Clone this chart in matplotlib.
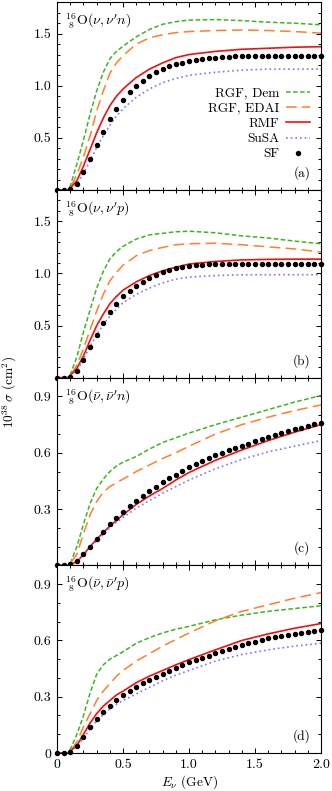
# Neutral-current neutrino cross sections on 16O, four panels
import matplotlib
matplotlib.use("Agg")
import matplotlib.pyplot as plt
import numpy as np
from matplotlib.ticker import MultipleLocator

plt.rcParams['font.family'] = 'serif'
plt.rcParams['font.serif'] = ['cmr10', 'DejaVu Serif']
plt.rcParams['mathtext.fontset'] = 'cm'
plt.rcParams['axes.unicode_minus'] = False

# energy grid for the model curves (GeV)
E_LINE = [0, 0.05, 0.08, 0.1, 0.15, 0.2, 0.25, 0.3, 0.35, 0.4, 0.45, 0.5,
          0.6, 0.7, 0.8, 0.9, 1.0, 1.2, 1.4, 1.6, 1.8, 2.0]
# energy grid for the SF points
E_SF = np.linspace(0, 2.0, 41)

# panel (a)  nu, nu' n
a_dem = [0, 0, 0, 0.04, 0.25, 0.48, 0.73, 0.95, 1.13, 1.26, 1.33, 1.38,
         1.47, 1.54, 1.59, 1.615, 1.63, 1.635, 1.625, 1.61, 1.60, 1.585]
a_edai = [0, 0, 0, 0.02, 0.15, 0.32, 0.52, 0.76, 0.95, 1.12, 1.22, 1.29,
          1.40, 1.46, 1.49, 1.51, 1.52, 1.53, 1.535, 1.53, 1.52, 1.505]
a_rmf = [0, 0, 0, 0.02, 0.09, 0.23, 0.39, 0.55, 0.69, 0.81, 0.90, 0.97,
         1.08, 1.16, 1.22, 1.27, 1.30, 1.33, 1.35, 1.36, 1.37, 1.375]
a_susa = [0, 0, 0, 0.01, 0.06, 0.16, 0.28, 0.41, 0.52, 0.62, 0.71, 0.78,
          0.89, 0.97, 1.03, 1.07, 1.10, 1.13, 1.15, 1.16, 1.16, 1.16]
a_sf = [0, 0, 0.01, 0.06, 0.17, 0.30, 0.43, 0.56, 0.68, 0.775, 0.865, 0.94,
        1.00, 1.05, 1.095, 1.13, 1.16, 1.185, 1.205, 1.22, 1.235, 1.245,
        1.255, 1.263, 1.27, 1.275, 1.278, 1.281, 1.283, 1.285, 1.286, 1.287,
        1.288, 1.288, 1.289, 1.289, 1.29, 1.29, 1.29, 1.29, 1.29]

# panel (b)  nu, nu' p
b_dem = [0, 0, 0, 0.03, 0.20, 0.44, 0.65, 0.86, 1.02, 1.14, 1.21, 1.26,
         1.33, 1.37, 1.385, 1.40, 1.405, 1.39, 1.36, 1.34, 1.31, 1.285]
b_edai = [0, 0, 0, 0.02, 0.12, 0.28, 0.46, 0.64, 0.80, 0.93, 1.01, 1.08,
          1.17, 1.22, 1.25, 1.275, 1.285, 1.29, 1.275, 1.255, 1.235, 1.205]
b_rmf = [0, 0, 0, 0.02, 0.09, 0.21, 0.36, 0.50, 0.61, 0.71, 0.78, 0.84,
         0.92, 0.98, 1.025, 1.06, 1.09, 1.115, 1.13, 1.135, 1.137, 1.137]
b_susa = [0, 0, 0, 0.01, 0.07, 0.18, 0.30, 0.41, 0.51, 0.59, 0.66, 0.72,
          0.80, 0.86, 0.91, 0.945, 0.965, 0.98, 0.987, 0.988, 0.988, 0.988]
b_sf = [0, 0, 0.01, 0.065, 0.17, 0.29, 0.41, 0.52, 0.63, 0.71, 0.78, 0.83,
        0.88, 0.92, 0.955, 0.985, 1.01, 1.03, 1.048, 1.062, 1.07, 1.078,
        1.084, 1.088, 1.09, 1.092, 1.093, 1.094, 1.095, 1.095, 1.095, 1.095,
        1.094, 1.094, 1.093, 1.093, 1.092, 1.092, 1.091, 1.091, 1.09]

# panel (c)  nubar, nubar' n
c_dem = [0, 0, 0, 0.01, 0.10, 0.22, 0.33, 0.41, 0.46, 0.50, 0.53, 0.55,
         0.58, 0.62, 0.655, 0.68, 0.705, 0.75, 0.79, 0.83, 0.87, 0.905]
c_edai = [0, 0, 0, 0.01, 0.06, 0.17, 0.27, 0.34, 0.39, 0.42, 0.44, 0.46,
          0.50, 0.535, 0.57, 0.60, 0.635, 0.70, 0.75, 0.79, 0.825, 0.855]
c_rmf = [0, 0, 0, 0.005, 0.02, 0.058, 0.10, 0.14, 0.175, 0.21, 0.24, 0.27,
         0.325, 0.37, 0.41, 0.455, 0.495, 0.56, 0.615, 0.665, 0.71, 0.75]
c_susa = [0, 0, 0, 0.005, 0.02, 0.055, 0.095, 0.13, 0.165, 0.20, 0.23, 0.255,
          0.305, 0.345, 0.385, 0.42, 0.455, 0.515, 0.565, 0.605, 0.635, 0.665]
c_sf = [0, 0, 0.005, 0.021, 0.059, 0.10, 0.143, 0.18, 0.218, 0.254, 0.286,
        0.316, 0.343, 0.371, 0.396, 0.42, 0.443, 0.463, 0.483, 0.503, 0.523,
        0.54, 0.555, 0.571, 0.586, 0.60, 0.613, 0.625, 0.636, 0.649, 0.661,
        0.672, 0.683, 0.694, 0.704, 0.714, 0.724, 0.733, 0.742, 0.751, 0.759]

# panel (d)  nubar, nubar' p
d_dem = [0, 0, 0, 0.02, 0.10, 0.20, 0.32, 0.42, 0.47, 0.50, 0.52, 0.54,
         0.585, 0.615, 0.64, 0.66, 0.675, 0.71, 0.735, 0.755, 0.77, 0.785]
d_edai = [0, 0, 0, 0.01, 0.06, 0.14, 0.21, 0.28, 0.33, 0.37, 0.41, 0.44,
          0.49, 0.53, 0.57, 0.605, 0.64, 0.705, 0.755, 0.79, 0.825, 0.855]
d_rmf = [0, 0, 0, 0.01, 0.04, 0.10, 0.16, 0.21, 0.25, 0.28, 0.31, 0.33,
         0.375, 0.41, 0.44, 0.47, 0.498, 0.55, 0.60, 0.635, 0.665, 0.69]
d_susa = [0, 0, 0, 0.01, 0.035, 0.08, 0.13, 0.17, 0.205, 0.235, 0.26, 0.28,
          0.315, 0.35, 0.385, 0.415, 0.44, 0.49, 0.525, 0.55, 0.57, 0.585]
d_sf = [0, 0, 0.008, 0.039, 0.083, 0.137, 0.181, 0.216, 0.251, 0.283, 0.308,
        0.331, 0.354, 0.372, 0.39, 0.407, 0.423, 0.438, 0.453, 0.468, 0.483,
        0.495, 0.507, 0.519, 0.531, 0.543, 0.554, 0.565, 0.576, 0.585, 0.593,
        0.602, 0.611, 0.617, 0.623, 0.629, 0.634, 0.639, 0.643, 0.65, 0.657]

titles = [r"${}^{16}_{\ 8}\mathrm{O}(\nu,\nu' n)$",
          r"${}^{16}_{\ 8}\mathrm{O}(\nu,\nu' p)$",
          r"${}^{16}_{\ 8}\mathrm{O}(\bar\nu,\bar\nu' n)$",
          r"${}^{16}_{\ 8}\mathrm{O}(\bar\nu,\bar\nu' p)$"]
tags = ['(a)', '(b)', '(c)', '(d)']
labels = ['RGF, Dem', 'RGF, EDAI', 'RMF', 'SuSA', 'SF']
ytick_vals = [[0, 0.5, 1.0, 1.5], [0, 0.5, 1.0, 1.5],
              [0, 0.3, 0.6, 0.9], [0, 0.3, 0.6, 0.9]]
ytick_text = [['', '0.5', '1.0', '1.5'], ['', '0.5', '1.0', '1.5'],
              ['', '0.3', '0.6', '0.9'], ['0', '0.3', '0.6', '0.9']]
xtick_vals = [0, 0.5, 1.0, 1.5, 2.0]
xtick_text = ['0', '0.5', '1.0', '1.5', '2.0']

data = [(a_dem, a_edai, a_rmf, a_susa, a_sf),
        (b_dem, b_edai, b_rmf, b_susa, b_sf),
        (c_dem, c_edai, c_rmf, c_susa, c_sf),
        (d_dem, d_edai, d_rmf, d_susa, d_sf)]
ymax = [1.8, 1.8, 1.0, 1.0]

fig, axes = plt.subplots(4, 1, figsize=(3.32, 7.91), dpi=100, sharex=True)
fig.subplots_adjust(left=0.172, right=0.967, top=0.997, bottom=0.048, hspace=0)

for i, ax in enumerate(axes):
    dem, edai, rmf, susa, sf = data[i]
    ax.plot(E_LINE, dem, color='#3cb521', lw=1.1, dashes=(3, 1.6), label=labels[0])
    ax.plot(E_LINE, edai, color='#ff7f2a', lw=1.1, dashes=(7, 3.5), label=labels[1])
    ax.plot(E_LINE, rmf, color='#ee1111', lw=1.2, label=labels[2])
    ax.plot(E_LINE, susa, color='#7777ff', lw=1.2, dashes=(1, 1.8), label=labels[3])
    # SF points sit on the axis at threshold, keep them whole
    ax.plot(E_SF, sf, 'o', color='black', ms=2.9, label=labels[4],
            clip_on=False, zorder=5)

    ax.set_xlim(0, 2.0)
    ax.set_ylim(0, ymax[i])
    ax.set_yticks(ytick_vals[i])
    ax.set_yticklabels(ytick_text[i])
    ax.xaxis.set_minor_locator(MultipleLocator(0.1))
    ax.yaxis.set_minor_locator(MultipleLocator(0.1))
    ax.tick_params(which='both', direction='in', top=True, right=True,
                   labelsize=10, width=0.7)
    ax.tick_params(which='major', length=3.5, pad=4)
    ax.tick_params(which='minor', length=2)
    for s in ax.spines.values():
        s.set_linewidth(0.8)

    ax.text(0.03, 0.9, titles[i], transform=ax.transAxes, fontsize=10,
            ha='left', va='center')
    ax.text(0.96, 0.09, tags[i], transform=ax.transAxes, fontsize=9.6,
            ha='right', va='center')

axes[3].set_xticks(xtick_vals)
axes[3].set_xticklabels(xtick_text)
axes[3].set_xlabel(r"$E_\nu$ (GeV)", fontsize=9.6, labelpad=2)

axes[0].legend(loc='center right', bbox_to_anchor=(1.0, 0.353), frameon=False,
               markerfirst=False, numpoints=1, fontsize=9.6, handlelength=1.8,
               labelspacing=0.22, borderaxespad=0.45, handletextpad=0.5)

fig.text(0.03, 0.504, r"$10^{38}\,\sigma$ (cm$^2$)", rotation=90,
         fontsize=9.6, ha='center', va='center')

fig.savefig('out.png', dpi=100)
